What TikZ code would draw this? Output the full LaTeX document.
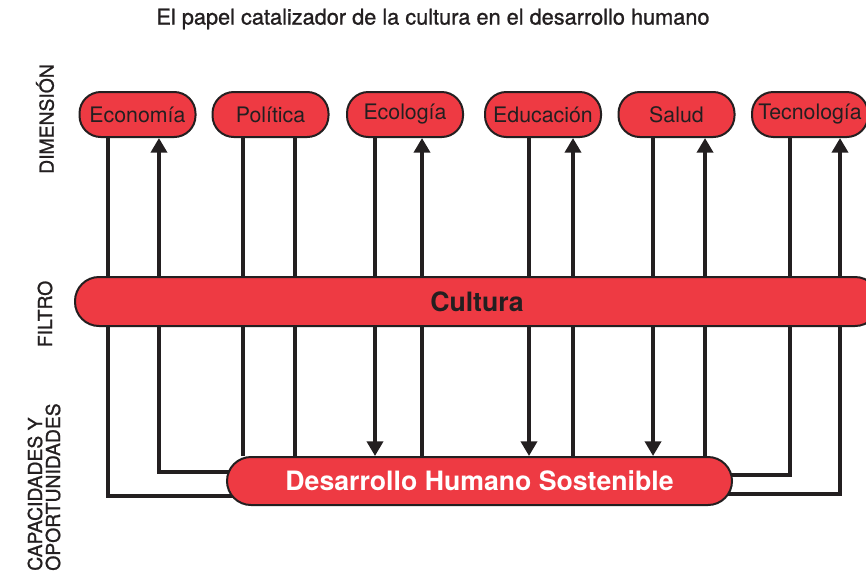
\documentclass[tikz,border=0pt]{standalone}
\usepackage{fontspec}
\setmainfont{TeX Gyre Heros}
\newfontfamily\medfont{TeX Gyre Heros}[FakeBold=1]
\usetikzlibrary{arrows.meta,backgrounds}

\definecolor{culturared}{RGB}{238,58,67}
\definecolor{inkblack}{RGB}{35,31,32}

\tikzset{
  dimbox/.style={draw=inkblack, line width=1.5pt, fill=culturared, rounded corners=16pt,
    minimum width=87pt, minimum height=33.75pt, inner xsep=2pt, text=inkblack,
    font=\fontsize{16}{19}\selectfont},
  bar/.style={draw=inkblack, line width=1.5pt, fill=culturared, rounded corners=18pt,
    font=\bfseries\fontsize{20}{24}\selectfont},
  link/.style={draw=inkblack, line width=3pt},
  arrowed/.style={-{Triangle[width=12pt,length=11pt]}},
  sidelabel/.style={rotate=90, text=inkblack, font=\medfont\fontsize{14.5}{13.5}\selectfont}
}

\begin{document}
\begin{tikzpicture}[x=0.75pt, y=-0.75pt]
    \useasboundingbox (0,0) rectangle (866,572);
    \node[text=inkblack, font=\medfont\fontsize{16.3}{20}\selectfont] (title) at (433,19) {El papel catalizador de la cultura en el desarrollo humano};

    % dimensiones
    \node[dimbox] (eco) at (137.5,114.5) {Economía};
    \node[dimbox] (pol) at (270.5,114.5) {Política};
    \node[dimbox] (ecol) at (405,114.5) {Ecología};
    \node[dimbox] (edu) at (543,114.5) {Educación};
    \node[dimbox] (sal) at (676.5,114.5) {Salud};
    \node[dimbox] (tec) at (810,114.5) {Tecnología};

    % filtro y resultado
    \node[bar, minimum width=603pt, minimum height=36.75pt, text=inkblack] (cult) at (477,301.5) {Cultura};
    \node[bar, minimum width=378.75pt, minimum height=36pt, text=white] (dhs) at (479.5,481) {Desarrollo Humano Sostenible};

    % etiquetas laterales
    \node[sidelabel] (dimlbl) at (45,119) {DIMENSIÓN};
    \node[sidelabel] (fillbl) at (45,314) {FILTRO};
    \node[sidelabel, anchor=west, align=left, inner sep=0pt] (caplbl) at (44,571) {CAPACIDADES Y\\OPORTUNIDADES};

    \begin{scope}[on background layer]
        % Economía
        \draw[link] ([xshift=-22.1pt]eco.south) |- ([yshift=-11.25pt]dhs.center);
        \draw[link, arrowed] ([yshift=6.75pt]dhs.center) -| ([xshift=16.1pt]eco.south);
        % Política
        \draw[link] ([xshift=-20.6pt]pol.south) -- ([xshift=-20.6pt]pol.south |- dhs.north);
        \draw[link] ([xshift=18.4pt]pol.south |- dhs.north) -- ([xshift=18.4pt]pol.south);
        % Ecología
        \draw[link, arrowed] ([xshift=-22.5pt]ecol.south) -- ([xshift=-22.5pt]ecol.south |- dhs.north);
        \draw[link, arrowed] ([xshift=12.75pt]ecol.south |- dhs.north) -- ([xshift=12.75pt]ecol.south);
        % Educación
        \draw[link, arrowed] ([xshift=-10.5pt]edu.south) -- ([xshift=-10.5pt]edu.south |- dhs.north);
        \draw[link, arrowed] ([xshift=22.5pt]edu.south |- dhs.north) -- ([xshift=22.5pt]edu.south);
        % Salud
        \draw[link, arrowed] ([xshift=-17.6pt]sal.south) -- ([xshift=-17.6pt]sal.south |- dhs.north);
        \draw[link, arrowed] ([xshift=21.4pt]sal.south |- dhs.north) -- ([xshift=21.4pt]sal.south);
        % Tecnología
        \draw[link] ([xshift=-15pt]tec.south) |- ([yshift=4.5pt]dhs.center);
        \draw[link, arrowed] ([yshift=-9.75pt]dhs.center) -| ([xshift=22.5pt]tec.south);
    \end{scope}
\end{tikzpicture}
\end{document}
